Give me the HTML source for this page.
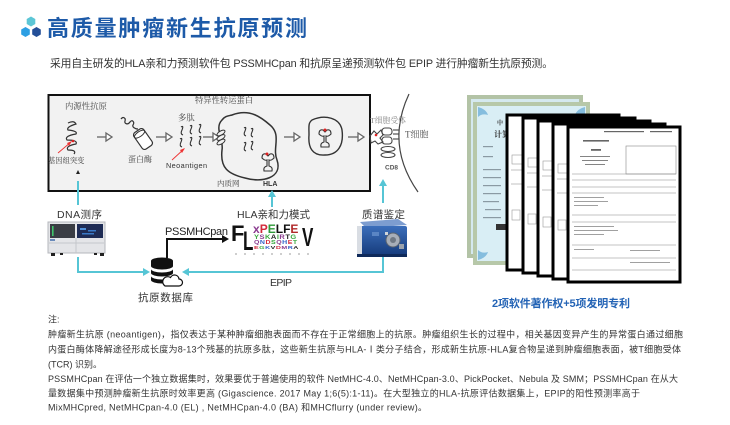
<!DOCTYPE html>
<html><head><meta charset="utf-8">
<style>
html,body{margin:0;padding:0;background:#fff;width:730px;height:425px;overflow:hidden}
svg{display:block}
text{font-family:"Liberation Sans","Noto Sans CJK SC",sans-serif}
.sf{font-family:"Liberation Serif","Noto Serif CJK SC",serif}
</style></head><body>
<svg width="730" height="425" viewBox="0 0 730 425" xmlns="http://www.w3.org/2000/svg">
<defs>
<linearGradient id="ms" x1="0" y1="0" x2="0" y2="1">
<stop offset="0" stop-color="#3c6fbb"/><stop offset="1" stop-color="#153a7a"/>
</linearGradient>
</defs>

<!-- header logo -->
<polygon points="31,16.5 35.3,19 35.3,24 31,26.5 26.7,24 26.7,19" fill="#5cc6d6"/>
<polygon points="25.5,27 29.8,29.5 29.8,34.5 25.5,37 21.2,34.5 21.2,29.5" fill="#2d9fe3"/>
<polygon points="36.5,27 40.8,29.5 40.8,34.5 36.5,37 32.2,34.5 32.2,29.5" fill="#244f98"/>
<text x="47" y="36" font-size="22" font-weight="bold" fill="#1d5aa8" textLength="260">高质量肿瘤新生抗原预测</text>

<text x="50" y="67" font-size="10.8" fill="#333" textLength="503">采用自主研发的HLA亲和力预测软件包 PSSMHCpan 和抗原呈递预测软件包 EPIP 进行肿瘤新生抗原预测。</text>

<!-- main gray box -->
<rect x="48.5" y="95" width="321.5" height="96" fill="#f2f2f2" stroke="#111" stroke-width="2"/>

<!-- T cell arc -->
<path d="M409 94 Q385 145 418 192" fill="none" stroke="#444" stroke-width="1.2"/>

<!-- box labels -->
<text class="sf" x="65" y="109" font-size="8.4" fill="#444">内源性抗原</text>
<text class="sf" x="195" y="103" font-size="8.3" fill="#444">特异性转运蛋白</text>
<text class="sf" x="178" y="120.5" font-size="8.4" fill="#444">多肽</text>
<text class="sf" x="48" y="163" font-size="7.3" fill="#444">基因组突变</text>
<text class="sf" x="128" y="162" font-size="8" fill="#444">蛋白酶</text>
<text x="166" y="168" font-size="7.3" fill="#333" textLength="41">Neoantigen</text>
<text class="sf" x="217" y="186" font-size="7.5" fill="#444">内质网</text>
<text x="263" y="186" font-size="7" font-weight="bold" fill="#333">HLA</text>
<text class="sf" x="370" y="123" font-size="7.8" fill="#888">T细胞受体</text>
<text class="sf" x="405" y="137.5" font-size="9" fill="#555">T细胞</text>
<text x="385" y="169.5" font-size="6.5" font-weight="bold" fill="#555">CD8</text>

<!-- DNA coil -->
<path d="M68 123 q6 -3 8 1 q-10 3 -8 6 q10 1 8 4 q-12 2 -9 6 q11 0 9 4 q-11 2 -8 6 q9 0 6 4" fill="none" stroke="#333" stroke-width="1.2"/>
<line x1="58" y1="153" x2="71" y2="142" stroke="#e33" stroke-width="0.9"/>
<polygon points="72,141 67,143 69,146" fill="#e33"/>
<circle cx="73" cy="141" r="1.3" fill="#d22"/>

<!-- hollow arrows -->
<g fill="#fff" stroke="#666" stroke-width="1.3">
<line x1="97" y1="137" x2="107" y2="137"/><polygon points="106,133 112,137 106,141"/>
<line x1="156" y1="137" x2="167" y2="137"/><polygon points="166,133 172,137 166,141"/>
<line x1="203" y1="137" x2="213" y2="137"/><polygon points="213,133 219,137 213,141"/>
<line x1="284" y1="137" x2="295" y2="137"/><polygon points="294,133 300,137 294,141"/>
<line x1="348" y1="137" x2="359" y2="137"/><polygon points="358,133 364,137 358,141"/>
</g>

<!-- protease -->
<path d="M121 119 c2 -3 5 -1 4 2 c-1 3 3 4 5 1 c2 -3 5 0 3 3 c-1 2 2 4 5 4" fill="none" stroke="#333" stroke-width="1.2"/>
<g transform="translate(143,139) rotate(55)">
<rect x="-10" y="-6" width="20" height="12" rx="3" fill="#fff" stroke="#333" stroke-width="1.2"/>
<ellipse cx="-6" cy="0" rx="2.5" ry="6" fill="none" stroke="#333" stroke-width="1"/>
</g>

<!-- peptides -->
<g fill="none" stroke="#333" stroke-width="1.1">
<path d="M181 127 q3 -2 1 3 q-2 4 1 5"/><path d="M190 126 q3 -2 1 3 q-2 4 1 5"/><path d="M199 125 q3 -2 1 3 q-2 4 1 5"/>
<path d="M180 139 q3 -2 1 3 q-2 4 1 5"/><path d="M190 138 q3 -2 1 3 q-2 4 1 5"/><path d="M199 137 q3 -2 1 3 q-2 4 1 5"/>
</g>
<line x1="172" y1="160" x2="184" y2="149" stroke="#e33" stroke-width="0.9"/>
<polygon points="185,148 180,150 182,153" fill="#e33"/>

<!-- ER blob -->
<path d="M232 115 C250 108 262 118 270 125 C282 135 272 148 277 160 C283 178 262 183 245 178 C228 174 220 168 222 150 C224 140 214 128 222 120 C225 116 228 116 232 115 Z" fill="none" stroke="#333" stroke-width="1.5"/>
<g fill="#f2f2f2" stroke="#333" stroke-width="1">
<ellipse cx="221" cy="133" rx="4.5" ry="2" transform="rotate(-30 221 133)"/>
<ellipse cx="221" cy="137.5" rx="4.5" ry="2" transform="rotate(-30 221 137.5)"/>
<ellipse cx="221" cy="142" rx="4.5" ry="2" transform="rotate(-30 221 142)"/>
</g>
<g fill="none" stroke="#333" stroke-width="1.1">
<path d="M244 128 q3 -2 1 3 q-2 4 1 5"/><path d="M251 129 q3 -2 1 3 q-2 4 1 5"/>
<path d="M244 143 q3 -2 1 3 q-2 4 1 5"/><path d="M251 142 q3 -2 1 3 q-2 4 1 5"/>
<path d="M262 158 q0 -5 4 -4 l2 2 l2 -2 q4 -1 4 4 q-3 3 -5 2 v6 q4 1 3 5 h-8 q-1 -4 3 -5 v-6 q-2 1 -5 -2 z"/>
<path d="M319 134 q0 -5 4 -4 l2 2 l2 -2 q4 -1 4 4 q-3 3 -5 2 v6 q4 1 3 5 h-8 q-1 -4 3 -5 v-6 q-2 1 -5 -2 z"/>
</g>
<circle cx="267" cy="154" r="1.5" fill="#d22"/>
<!-- vesicle -->
<path d="M312 120 C325 114 340 118 342 130 C344 145 338 155 325 155 C312 156 308 147 309 135 C309 127 308 123 312 120 Z" fill="none" stroke="#333" stroke-width="1.4"/>
<circle cx="325" cy="130" r="1.5" fill="#d22"/>

<!-- TCR / CD8 -->
<g fill="none" stroke="#444" stroke-width="1.1">
<path d="M370 136 l4 -5 l3 3 l4 -4 l2 5 l-3 3 l3 4 l-5 2 l-3 -3 l-4 2 z"/>
<rect x="382" y="128" width="10" height="7" rx="3"/>
<rect x="382" y="137" width="10" height="7" rx="3"/>
<line x1="393" y1="130" x2="399" y2="130"/><line x1="393" y1="134" x2="399" y2="134"/><line x1="393" y1="139" x2="399" y2="139"/>
<ellipse cx="388" cy="149" rx="7" ry="2.5"/>
<ellipse cx="388" cy="155" rx="7" ry="2.5"/>
</g>
<circle cx="376" cy="135" r="1.3" fill="#d22"/>

<!-- cyan connectors -->
<g stroke="#56c5d5" stroke-width="2" fill="none">
<line x1="78" y1="181" x2="78" y2="205"/>
<line x1="272" y1="196" x2="272" y2="207"/>
<line x1="383" y1="185" x2="383" y2="203"/>
<polyline points="78,257 78,272 144,272"/>
<polyline points="383,257 383,272 188,272"/>
</g>
<g fill="#56c5d5">
<polygon points="272,190 268,197 276,197"/>
<polygon points="383,179 379,186 387,186"/>
<polygon points="150,272 143,268 143,276"/>
<polygon points="182,272 189,268 189,276"/>
</g>
<polygon points="78,170 76,174 80,174" fill="#222"/>

<!-- labels below box -->
<text x="57" y="218" font-size="10.5" fill="#333" textLength="45">DNA测序</text>
<text x="237" y="218" font-size="10.5" fill="#333" textLength="73">HLA亲和力模式</text>
<text x="362" y="218" font-size="10.5" fill="#333" textLength="43">质谱鉴定</text>
<text x="165" y="235" font-size="11" fill="#222" textLength="63">PSSMHCpan</text>
<text x="270" y="286" font-size="10.5" fill="#333" textLength="22">EPIP</text>
<text x="138" y="301" font-size="10.5" fill="#333" textLength="55">抗原数据库</text>

<!-- PSSMHCpan arrow -->
<polyline points="167,258 167,239 223,239" fill="none" stroke="#111" stroke-width="2"/>
<polygon points="229,239 222,235 222,243" fill="#111"/>

<!-- database -->
<g fill="#111">
<path d="M151 261 A11 3.5 0 0 1 173 261 V266 A11 3.5 0 0 1 151 266 Z"/>
<path d="M151 269 A11 3.5 0 0 0 173 269 V273 A11 3.5 0 0 1 151 273 Z"/>
<path d="M151 276 A11 3.5 0 0 0 173 276 V280 A11 3.5 0 0 1 151 280 Z"/>
</g>
<path d="M165 286 h14 a3.5 3.5 0 0 0 0 -7 a4.5 4.5 0 0 0 -8.5 -1.5 a3.5 3.5 0 0 0 -5.5 8.5 z" fill="#fff" stroke="#111" stroke-width="1.2"/>

<!-- DNA sequencer -->
<rect x="48" y="222" width="57" height="31" fill="#e4e5e8" stroke="#b5b7bc" stroke-width="1"/>
<rect x="50" y="224" width="25" height="14" fill="#3a3d44"/>
<rect x="52" y="226" width="1.6" height="10" fill="#3fc56a"/>
<rect x="77" y="224" width="26" height="14" fill="#1e2c55"/>
<rect x="80" y="228" width="6" height="2" fill="#4f8fd8"/><rect x="88" y="230" width="8" height="1.5" fill="#3a7ac8"/><rect x="82" y="233" width="12" height="1.5" fill="#3a7ac8"/>
<line x1="49" y1="243" x2="104" y2="243" stroke="#c4c6cb"/>
<line x1="76" y1="238" x2="76" y2="253" stroke="#c4c6cb"/>
<rect x="50" y="239" width="5" height="2" fill="#6a8bbb"/>
<g fill="#222"><rect x="51" y="253" width="4" height="3"/><rect x="60" y="253" width="3" height="2"/><rect x="94" y="253" width="3" height="2"/><rect x="100" y="253" width="4" height="3"/></g>

<!-- sequence logo -->
<text transform="translate(231,241)" font-size="22" font-weight="bold" fill="#111">F</text>
<text transform="translate(243,250) scale(1,1.6)" font-size="17" font-weight="bold" fill="#111">L</text>
<text transform="translate(302,246) scale(1,1.5)" font-size="17" font-weight="bold" fill="#111">V</text>
<text transform="translate(253,233)" font-size="12" font-weight="bold"><tspan fill="#8a3b8f">x</tspan><tspan fill="#d2283a">P</tspan><tspan fill="#2f9a3a">E</tspan><tspan fill="#111">L</tspan><tspan fill="#111">F</tspan><tspan fill="#b02a2a">E</tspan></text>
<text transform="translate(254,239) scale(1,0.9)" font-size="7.5" font-weight="bold" letter-spacing="0.5"><tspan fill="#3aa83f">Y</tspan><tspan fill="#8a3b8f">S</tspan><tspan fill="#3aa83f">K</tspan><tspan fill="#222">A</tspan><tspan fill="#3aa83f">I</tspan><tspan fill="#8a3b8f">R</tspan><tspan fill="#222">T</tspan><tspan fill="#3aa83f">G</tspan></text>
<text transform="translate(254,244) scale(1,0.8)" font-size="7" font-weight="bold" letter-spacing="0.5"><tspan fill="#8a3b8f">Q</tspan><tspan fill="#2f5fc8">N</tspan><tspan fill="#d2283a">D</tspan><tspan fill="#3aa83f">S</tspan><tspan fill="#8a3b8f">Q</tspan><tspan fill="#2f5fc8">H</tspan><tspan fill="#d2283a">E</tspan><tspan fill="#3aa83f">T</tspan></text>
<text transform="translate(254,249) scale(1,0.7)" font-size="7" font-weight="bold" letter-spacing="0.5"><tspan fill="#d2283a">E</tspan><tspan fill="#3aa83f">G</tspan><tspan fill="#2f5fc8">K</tspan><tspan fill="#222">V</tspan><tspan fill="#d2283a">D</tspan><tspan fill="#8a3b8f">M</tspan><tspan fill="#2f5fc8">R</tspan><tspan fill="#222">A</tspan></text>
<g fill="#555"><circle cx="236" cy="254" r="0.6"/><circle cx="245" cy="254" r="0.6"/><circle cx="254" cy="254" r="0.6"/><circle cx="263" cy="254" r="0.6"/><circle cx="272" cy="254" r="0.6"/><circle cx="281" cy="254" r="0.6"/><circle cx="290" cy="254" r="0.6"/><circle cx="299" cy="254" r="0.6"/><circle cx="308" cy="254" r="0.6"/></g>

<!-- mass spectrometer -->
<polygon points="360,222 398,219 407,225 366,228" fill="#7d9dd0"/>
<rect x="357" y="226" width="50" height="30" rx="2" fill="url(#ms)"/>
<rect x="357" y="226" width="5" height="30" fill="#d9dde3"/>
<rect x="357" y="254" width="50" height="3" fill="#0f2a5a"/>
<circle cx="393" cy="240" r="7" fill="#a7aeb8" stroke="#5b6470" stroke-width="1"/>
<circle cx="393" cy="240" r="3" fill="#6f7883"/>
<rect x="385" y="232" width="3" height="3" fill="#cfd4da"/>
<rect x="399" y="244" width="5" height="5" fill="#9aa2ad"/>
<rect x="372" y="232" width="7" height="4" fill="#5a85c4"/>

<!-- certificates -->
<rect x="467" y="95" width="116" height="163" fill="#b3c3a6"/>
<rect x="471" y="99" width="108" height="155" fill="#d5e9ef"/>
<rect x="473" y="102" width="117" height="163" fill="#b7c8a9"/>
<rect x="477" y="106" width="109" height="155" fill="#d9eef5"/>
<g fill="#6fb0d8" opacity="0.8">
<path d="M478 107 q8 2 10 8 q-6 -2 -10 2 z"/><path d="M585 107 q-8 2 -10 8 q6 -2 10 2 z"/>
<path d="M478 260 q8 -2 10 -8 q-6 2 -10 -2 z"/>
</g>
<text class="sf" x="497" y="125" font-size="6" font-weight="bold" fill="#333">中</text>
<text class="sf" x="494" y="137" font-size="8" font-weight="bold" fill="#333">计算</text>
<g fill="#8a9aa3">
<rect x="483" y="146" width="10" height="1.2"/><rect x="483" y="156" width="10" height="1.2"/><rect x="483" y="169" width="18" height="1.2"/><rect x="483" y="177" width="18" height="1.2"/><rect x="483" y="185" width="18" height="1.2"/><rect x="483" y="193" width="18" height="1.2"/><rect x="483" y="201" width="16" height="1.2"/><rect x="485" y="209" width="16" height="1.2"/><rect x="483" y="217" width="18" height="1.2"/>
</g>
<rect x="496" y="224" width="10" height="6" fill="#333"/>

<!-- patent pages -->
<g stroke="#000" stroke-width="3" fill="#fff">
<rect x="507" y="115" width="112" height="155"/>
</g>
<g fill="none" stroke="#999" stroke-width="0.6"><rect x="512" y="155" width="10" height="9"/><line x1="511" y1="170" x2="522" y2="170"/><line x1="511" y1="184" x2="522" y2="184"/><rect x="512" y="210" width="8" height="10"/></g>
<g stroke="#000" stroke-width="3" fill="#fff"><rect x="523" y="118" width="112" height="155"/></g>
<g fill="none" stroke="#999" stroke-width="0.6"><rect x="528" y="158" width="10" height="9"/><line x1="527" y1="173" x2="538" y2="173"/><line x1="527" y1="187" x2="538" y2="187"/><rect x="528" y="214" width="8" height="10"/></g>
<g stroke="#000" stroke-width="3" fill="#fff"><rect x="538" y="121" width="112" height="155"/></g>
<g fill="none" stroke="#999" stroke-width="0.6"><rect x="543" y="161" width="10" height="9"/><line x1="542" y1="176" x2="553" y2="176"/><line x1="542" y1="190" x2="553" y2="190"/><rect x="543" y="217" width="8" height="10"/></g>
<g stroke="#000" stroke-width="3" fill="#fff"><rect x="553" y="124" width="112" height="155"/></g>
<g fill="none" stroke="#999" stroke-width="0.6"><rect x="558" y="164" width="9" height="9"/><line x1="557" y1="179" x2="567" y2="179"/><line x1="557" y1="193" x2="567" y2="193"/><rect x="558" y="220" width="8" height="10"/></g>
<g stroke="#000" stroke-width="3" fill="#fff"><rect x="568" y="127" width="112" height="155"/></g>
<g fill="#666">
<rect x="604" y="131" width="40" height="1.2"/><rect x="650" y="131" width="22" height="1.2"/>
<rect x="583" y="140" width="26" height="1.6"/>
<rect x="591" y="149" width="10" height="1.8"/>
<rect x="580" y="156" width="30" height="0.8"/><rect x="582" y="160" width="26" height="0.8"/><rect x="585" y="164" width="20" height="0.8"/>
</g>
<g fill="none" stroke="#888" stroke-width="0.6">
<rect x="626" y="146" width="50" height="28"/>
<line x1="572" y1="174" x2="676" y2="174"/><line x1="572" y1="180" x2="676" y2="180"/><line x1="572" y1="187" x2="676" y2="187"/>
<line x1="572" y1="193" x2="676" y2="193"/><line x1="572" y1="215" x2="676" y2="215"/><line x1="572" y1="222" x2="676" y2="222"/>
<line x1="572" y1="245" x2="676" y2="245"/><line x1="572" y1="258" x2="676" y2="258"/><line x1="572" y1="270" x2="676" y2="270"/>
</g>
<g fill="#888">
<rect x="574" y="197" width="30" height="0.8"/><rect x="574" y="201" width="34" height="0.8"/><rect x="574" y="205" width="24" height="0.8"/>
<rect x="574" y="226" width="40" height="0.8"/><rect x="574" y="230" width="44" height="0.8"/><rect x="574" y="234" width="30" height="0.8"/>
<rect x="574" y="249" width="20" height="0.8"/><rect x="630" y="250" width="30" height="0.8"/><rect x="630" y="262" width="40" height="0.8"/>
</g>

<text x="492" y="307" font-size="11" font-weight="bold" fill="#2363b5" textLength="138">2项软件著作权+5项发明专利</text>

<!-- notes -->
<g font-size="9" fill="#333">
<text x="48" y="322.3">注:</text>
<text x="48" y="337.3" textLength="635">肿瘤新生抗原 (neoantigen)，指仅表达于某种肿瘤细胞表面而不存在于正常细胞上的抗原。肿瘤组织生长的过程中，相关基因变异产生的异常蛋白通过细胞</text>
<text x="48" y="352.3" textLength="633">内蛋白酶体降解途径形成长度为8-13个残基的抗原多肽，这些新生抗原与HLA-Ⅰ类分子结合，形成新生抗原-HLA复合物呈递到肿瘤细胞表面，被T细胞受体</text>
<text x="48" y="367.3">(TCR) 识别。</text>
<text x="48" y="382" textLength="630">PSSMHCpan 在评估一个独立数据集时，效果要优于普遍使用的软件 NetMHC-4.0、NetMHCpan-3.0、PickPocket、Nebula 及 SMM；PSSMHCpan 在从大</text>
<text x="48" y="396.5" textLength="592">量数据集中预测肿瘤新生抗原时效率更高 (Gigascience. 2017 May 1;6(5):1-11)。在大型独立的HLA-抗原评估数据集上，EPIP的阳性预测率高于</text>
<text x="48" y="410.5" textLength="379">MixMHCpred, NetMHCpan-4.0 (EL) , NetMHCpan-4.0 (BA) 和MHCflurry (under review)。</text>
</g>
</svg>
</body></html>
